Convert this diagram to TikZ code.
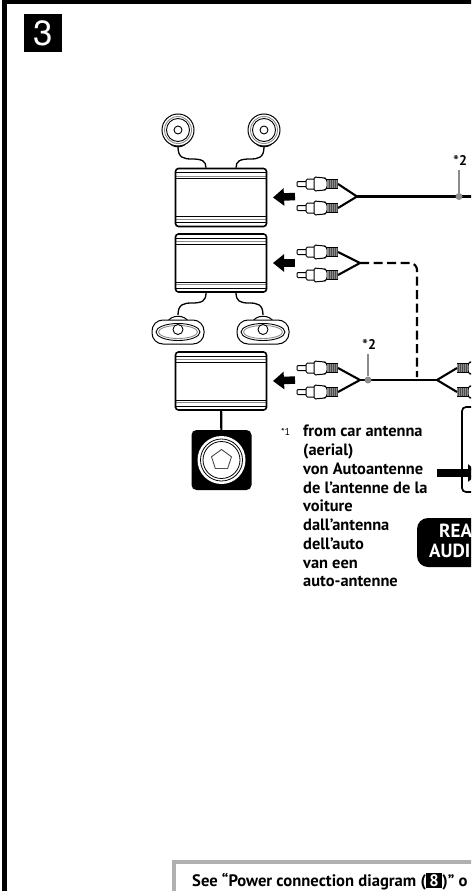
\documentclass[tikz,border=0pt]{standalone}
\usepackage{fontspec}
\setmainfont{PT Sans}
\newfontfamily\numfont{TeX Gyre Heros}
\usepackage{xcolor}
\usetikzlibrary{shapes.geometric, arrows.meta, calc}
\definecolor{plategray}{HTML}{B0B0B0}
\definecolor{stemgray}{HTML}{8C8C8C}
\newcommand{\numbox}[1]{{\setlength{\fboxsep}{1.5pt}\colorbox{black}{\hspace*{2pt}\textcolor{white}{#1}\hspace*{2pt}}}}
\newcommand{\starmk}{{\fontsize{17}{17}\selectfont\raisebox{-2pt}{*}}}

\begin{document}
\begin{tikzpicture}[x=1pt, y=-1pt,
  frameline/.style={line width=5pt, draw=black},
  stepbadge/.style={rectangle, fill=black, text=white, minimum size=38pt, inner sep=0pt, font=\numfont\fontsize{35}{35}\selectfont},
  stripe/.style={line width=0.9pt},
  ampbox/.style={rectangle, draw=black, fill=white, line width=1.6pt, rounded corners=3pt, minimum width=91pt, minimum height=58pt, inner sep=0pt,
    path picture={
      \foreach \yy/\cc in {4/black, 7.5/stemgray, 10/black} {
        \draw[stripe, \cc] ([yshift=-\yy pt]path picture bounding box.north west) -- ([yshift=-\yy pt]path picture bounding box.north east);
        \draw[stripe, \cc] ([yshift=\yy pt]path picture bounding box.south west) -- ([yshift=\yy pt]path picture bounding box.south east);
      }
    }},
  wire/.style={line width=2.1pt, draw=black},
  thinwire/.style={line width=1.3pt, draw=black},
  dashwire/.style={line width=2.1pt, draw=black, dash pattern=on 9pt off 4.5pt, rounded corners=7pt},
  bigarrow/.style={-{Triangle[length=11pt, width=17pt]}, line width=7.5pt, draw=black},
  stem/.style={line width=1.6pt, draw=stemgray},
  stemdot/.style={circle, fill=stemgray, minimum size=7pt, inner sep=0pt},
  starmark/.style={font=\fontsize{14}{14}\selectfont, inner sep=0pt},
  antennatext/.style={anchor=north west, align=left, inner sep=0pt, font=\bfseries\fontsize{16.4}{18.75}\selectfont},
  rearbadge/.style={rectangle, fill=black, text=white, rounded corners=11pt, minimum width=90pt, minimum height=49pt, inner sep=0pt},
  subbox/.style={rectangle, fill=black, rounded corners=5pt, minimum size=60pt, inner sep=0pt},
  ring/.style={circle, inner sep=0pt, draw=black, line width=0.8pt},
  platebox/.style={rectangle, draw=plategray, fill=white, line width=4pt, minimum width=320pt, minimum height=70pt, inner sep=0pt},
  pics/rcaplug/.style={code={
    \coordinate (-wire) at (0,0);
    \draw[line width=1pt, fill=white, rounded corners=1pt] (-41,-2.5) rectangle (-31,2.5);
    \draw[line width=1pt, fill=white, rounded corners=1.5pt] (-32,-5) rectangle (-22,5);
    \draw[line width=1pt, fill=white, rounded corners=1.5pt] (-24,-7) -- (-13,-6) -- (-11,-4) -- (-11,4) -- (-13,6) -- (-24,7) -- cycle;
    \fill[stemgray] (-11,-4.5) rectangle (0,4.5);
    \foreach \xx in {-9,-7,-5,-3,-1} {\draw[line width=0.5pt, black!70] (\xx,-4.5) -- (\xx,4.5);}
    \draw[line width=1pt] (-11,-4.5) -- (0,-4.5) (-11,4.5) -- (0,4.5);
  }},
  pics/tweeter/.style={code={
    \coordinate (-lead) at (0,17);
    \draw[line width=1pt, fill=white] (-8,13) .. controls (-6,18) and (6,18) .. (8,13);
    \draw[line width=1pt, fill=white] (0,0) circle (16);
    \draw[line width=0.9pt, stemgray] (0,0) circle (13.5);
    \draw[line width=0.9pt] (0,0) circle (11.5);
    \draw[line width=0.9pt, fill=white] (0,0) circle (4);
  }},
  pics/ovalspeaker/.style={code={
    \coordinate (-lead) at (0,-17);
    \draw[line width=1pt, fill=white] (-11,-9) .. controls (-8,-18) and (8,-18) .. (11,-9);
    \draw[line width=1pt, fill=white, rounded corners=11pt] (-26,-12) rectangle (26,12);
    \draw[line width=0.9pt] (0,0) ellipse (22 and 8.5);
    \draw[line width=0.9pt, stemgray] (0,0) ellipse (19.5 and 6.5);
    \draw[line width=0.9pt, fill=white] (0,-2.5) circle (5);
  }}
]
  \clip (0,0) rectangle (471,891);

  \coordinate (framebl) at (4.5,900);
  \coordinate (frametl) at (4.5,2);
  \coordinate (frametr) at (480,2);
  \draw[frameline] (framebl) -- (frametl) -- (frametr);
  \node[stepbadge] (stepno) at (43,33) {3};

  \node[ampbox] (ampa) at (221,197.5) {};
  \node[ampbox] (ampb) at (221,263) {};
  \node[ampbox] (ampc) at (221,381) {};
  \node[subbox] (subw) at (221.5,460) {};
  \node[circle, fill=white, minimum size=48pt, inner sep=0pt] (subcone) at (subw.center) {};
  \node[ring, minimum size=42pt] (subringa) at (subw.center) {};
  \node[ring, minimum size=37pt] (subringb) at (subw.center) {};
  \node[regular polygon, regular polygon sides=5, draw=black!70, line width=0.9pt, minimum size=21pt, inner sep=0pt] (subcap) at (subw.center) {};
  \draw[wire] (ampc) -- (subw);

  \pic (tweetera) at (178,130) {tweeter};
  \pic (tweeterb) at (264,130) {tweeter};
  \pic (ovala) at (178,332) {ovalspeaker};
  \pic (ovalb) at (263,332) {ovalspeaker};

  \draw[thinwire] (tweetera-lead) .. controls (178,158) and (184,159) .. (192,159) .. controls (202,159) and (206,161) .. ([xshift=-15pt]ampa.north);
  \draw[thinwire] (tweeterb-lead) .. controls (264,158) and (258,159) .. (250,159) .. controls (240,159) and (236,161) .. ([xshift=15pt]ampa.north);
  \draw[thinwire] (ovala-lead) .. controls (178,304) and (184,303) .. (192,303) .. controls (202,303) and (206,301) .. ([xshift=-15pt]ampb.south);
  \draw[thinwire] (ovalb-lead) .. controls (263,304) and (257,303) .. (249,303) .. controls (240,303) and (236,301) .. ([xshift=15pt]ampb.south);

  \pic (plugaa) at (338,184) {rcaplug};
  \pic (plugab) at (338,208) {rcaplug};
  \pic (plugba) at (338,252) {rcaplug};
  \pic (plugbb) at (338,275) {rcaplug};
  \pic (plugca) at (338,368) {rcaplug};
  \pic (plugcb) at (338,392) {rcaplug};
  \pic[xscale=-1] (plugda) at (457,368) {rcaplug};
  \pic[xscale=-1] (plugdb) at (457,392) {rcaplug};

  \coordinate (forka) at (357,196.5);
  \coordinate (forkb) at (360,263);
  \coordinate (forkc) at (360,380);
  \coordinate (forkd) at (437,380);
  \coordinate (enda) at (475,196.5);
  \coordinate (dashcorner) at (417,263);
  \coordinate (dashend) at (417,377);

  \draw[wire] (plugaa-wire) -- (forka) -- (plugab-wire);
  \draw[wire] (plugba-wire) -- (forkb) -- (plugbb-wire);
  \draw[wire] (plugca-wire) -- (forkc) -- (plugcb-wire);
  \draw[wire] (plugda-wire) -- (forkd) -- (plugdb-wire);
  \draw[wire] (forka) -- (enda);
  \draw[wire] (forkc) -- (forkd);
  \draw[dashwire] (forkb) -- (dashcorner) -- (dashend);

  \coordinate (arrowat) at (295,196.5);
  \coordinate (arrowbt) at (295,263);
  \coordinate (arrowct) at (295,380);
  \draw[bigarrow] (arrowat) -- (ampa.east -| 273,0);
  \draw[bigarrow] (arrowbt) -- (ampb.east -| 273,0);
  \draw[bigarrow] (arrowct) -- (ampc.east -| 273,0);

  \node[stemdot] (dota) at (459,196.5) {};
  \node[stemdot] (dotc) at (368,380) {};
  \coordinate (stemat) at (459,170);
  \coordinate (stemct) at (368,354);
  \draw[stem] (dota) -- (stemat);
  \draw[stem] (dotc) -- (stemct);
  \node[starmark] (staraa) at (460,161) {\starmk\textbf{2}};
  \node[starmark] (starcc) at (369,345.5) {\starmk\textbf{2}};

  \node[font=\fontsize{10}{10}\selectfont, inner sep=0pt] (starone) at (285.5,432) {*1};
  \node[antennatext] (antennatxt) at (303,425) {from car antenna\\(aerial)\\von Autoantenne\\de l’antenne de la\\voiture\\dall’antenna\\dell’auto\\van een\\auto-antenne};

  \node[rectangle, draw=black, line width=1.7pt, rounded corners=4pt, minimum width=40pt, minimum height=85pt, inner sep=0pt] (headunit) at (482,449.5) {};
  \coordinate (antennaat) at (437,473);
  \coordinate (antennabt) at (479,473);
  \draw[bigarrow] (antennaat) -- (antennabt);

  \node[rearbadge] (rearout) at (462,542.5) {};
  \node[anchor=north west, align=left, inner sep=0pt, text=white, font=\bfseries\fontsize{19}{20}\selectfont] (reartxt) at (429,524) {\hspace*{10pt}REA\\AUDI};

  \node[platebox] (notebox) at (334,897) {};
  \node[anchor=base west, inner sep=0pt, font=\bfseries\fontsize{16.6}{16.6}\selectfont] (notetxt) at (192,886.5) {See “Power connection diagram (\numbox{8})” o};
\end{tikzpicture}
\end{document}
